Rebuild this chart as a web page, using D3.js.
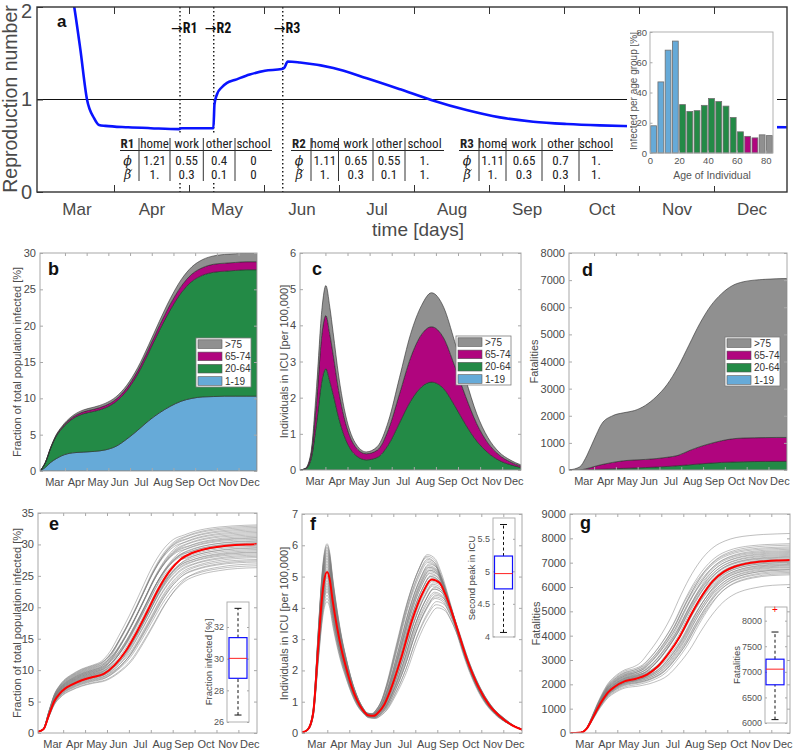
<!DOCTYPE html>
<html><head><meta charset="utf-8">
<script src="https://cdn.jsdelivr.net/npm/d3@7"></script>
<style>
body{margin:0;background:#fff}
svg{display:block;font-family:'Liberation Sans',Arial,Helvetica,sans-serif}
</style></head>
<body><svg id="fig" width="793" height="751"></svg>
<script>
// ---------------- DATA ----------------
const months = ["Mar","Apr","May","Jun","Jul","Aug","Sep","Oct","Nov","Dec"];
const monthStart = 0.15;           // first month boundary (months since simulation start), panels b-g

// Panel a: reproduction number (time in months since 1 March)
const rTime  = [0.328,0.47,0.55,0.64,0.733,0.80,0.885,1.19,1.49,1.868,1.90,2.325,2.34,2.375,2.435,2.507,2.608,2.81,3.013,3.236,3.267,3.317,3.48,3.925,4.37,4.817,5.23,5.70,6.145,6.59,7.036,7.48,7.79,8.59,9.97];
const rValue = [2.6,2.0,1.55,1.0,0.8,0.725,0.715,0.70,0.69,0.68,0.69,0.69,0.95,1.06,1.13,1.18,1.21,1.27,1.31,1.33,1.34,1.41,1.40,1.34,1.23,1.11,0.995,0.886,0.807,0.76,0.735,0.72,0.713,0.705,0.70];
const regimeChanges = [1.88, 2.33, 3.25];
const regimeNames = ["R1","R2","R3"];
const contexts = ["home","work","other","school"];
const phiR1 = ["1.21","0.55","0.4","0"],  betaR1 = ["1.","0.3","0.1","0"];
const phiR2 = ["1.11","0.65","0.55","1."], betaR2 = ["1.","0.3","0.1","1."];
const phiR3 = ["1.11","0.65","0.7","1."],  betaR3 = ["1.","0.3","0.3","1."];

// Inset: infected per age group [%]
const ageGroupStart = [0,5,10,15,20,25,30,35,40,45,50,55,60,65,70,75,80];
const infectedPct   = [18,47,68,74,32,27.5,28,31.5,36,34,31,23.5,14,11,10,12,11.5];

const groups = ["1-19","20-64","65-74",">75"];
const groupColors = {"1-19":"#66aad8","20-64":"#238a46","65-74":"#b0057e",">75":"#909090"};

// Panel b: fraction of total population infected [%] by age group
const bTime    = [0,0.25,0.5,0.75,1,1.5,2,2.5,3,3.5,4,4.5,5,5.5,6,6.5,7,7.5,8,8.5,9,9.5,10];
const bBlue    = [0,0.5,1.2,1.7,2.1,2.5,2.6,2.7,2.9,3.4,4.4,5.6,6.9,8.0,8.9,9.6,10.0,10.2,10.25,10.3,10.3,10.3,10.3];
const bGreen   = [0,0.66,1.99,3.1,3.71,4.68,5.28,5.52,5.78,6.14,6.66,7.73,9.35,11.35,13.25,14.9,16.1,16.75,17.1,17.2,17.3,17.4,17.4];
const bMagenta = [0,0.02,0.06,0.1,0.15,0.22,0.27,0.3,0.32,0.34,0.38,0.45,0.55,0.65,0.8,0.9,1.0,1.05,1.1,1.1,1.1,1.1,1.1];
const bGrey    = [0,0.02,0.05,0.1,0.14,0.2,0.25,0.28,0.3,0.32,0.36,0.42,0.5,0.6,0.75,0.9,1.0,1.1,1.15,1.2,1.2,1.2,1.2];

// Panel c: individuals in ICU [per 100,000]
const cTime    = [0,0.25,0.5,0.75,1.0,1.17,1.35,1.5,1.75,2.0,2.5,3.0,3.5,4.0,4.5,5.0,5.5,5.95,6.5,7.0,7.5,8.0,8.5,9.0,9.5,10];
const cBlue    = [0,0,0,0,0,0,0,0,0,0,0,0,0,0,0,0,0,0,0,0,0,0,0,0,0,0];
const cGreen   = [0,0.03,0.3,1.3,2.5,2.8,2.45,2.1,1.45,0.95,0.42,0.28,0.35,0.7,1.3,1.9,2.3,2.43,2.25,1.78,1.25,0.8,0.48,0.27,0.15,0.07];
const cMagenta = [0,0.01,0.12,0.6,1.3,1.47,1.3,1.1,0.75,0.5,0.23,0.17,0.2,0.42,0.8,1.2,1.45,1.53,1.4,1.1,0.78,0.48,0.27,0.15,0.08,0.04];
const cGrey    = [0,0.01,0.08,0.4,0.7,0.83,0.75,0.6,0.4,0.25,0.1,0.05,0.1,0.23,0.45,0.65,0.8,0.94,0.85,0.67,0.47,0.27,0.15,0.08,0.05,0.03];

// Panel d: fatalities
const dTime    = [0,0.5,0.75,1,1.25,1.5,2,2.5,3,3.5,4,4.5,5,5.5,6,6.5,7,7.5,8,8.5,9,9.5,10];
const dBlue    = [0,0,0,0,0,0,0,0,0,0,0,0,0,0,0,0,0,0,0,0,0,0,0];
const dGreen   = [0,2,8,15,22,30,45,60,75,90,110,130,160,190,225,255,280,295,305,312,316,318,320];
const dMagenta = [0,3,32,75,128,170,235,280,295,300,310,340,380,520,635,725,800,855,875,878,879,882,880];
const dGrey    = [0,115,380,760,1150,1500,1720,1770,1820,1990,2280,2680,3260,3890,4540,5070,5420,5650,5760,5810,5835,5850,5860];

// Panel e: fraction infected, baseline run + ensemble
const eTime = [0,0.25,0.5,0.75,1,1.25,1.5,2,2.5,3,3.5,4,4.5,5,5.5,6,6.5,7,7.5,8,8.5,9,9.5,10];
const eRed  = [0.2,0.6,2.9,5.1,6.3,7.1,7.6,8.4,8.9,9.4,10.8,13.0,16.0,19.4,22.9,25.7,27.6,28.6,29.15,29.5,29.75,29.9,30.0,30.05];
const eRunFinal   = [26.3,26.6,26.9,27.2,27.4,27.6,27.9,28.1,28.3,28.5,28.7,28.8,29.0,29.2,29.4,29.5,29.7,29.9,30.0,30.2,30.3,30.5,30.6,30.8,31.0,31.1,31.3,31.5,31.7,31.9,32.1,32.3,32.5,32.7,32.9,33.1];
const eRunPlateau = [8.0,8.3,7.9,8.4,8.6,8.2,8.8,8.5,9.0,8.7,9.2,8.9,9.4,9.1,9.6,8.8,9.3,9.8,9.0,9.5,10.0,9.2,9.7,10.2,9.4,9.9,10.4,9.6,10.1,10.6,9.8,10.3,10.7,10.0,10.5,10.8];
const eRunShift   = [0.25,0.2,0.3,0.15,0.22,0.1,0.18,0.05,0.12,0.0,0.08,-0.05,0.1,0.02,-0.08,0.06,-0.02,-0.1,0.04,-0.12,-0.05,-0.15,0.0,-0.18,-0.08,-0.2,-0.1,-0.22,-0.15,-0.25,-0.18,-0.28,-0.2,-0.3,-0.25,-0.32];
const eBoxStats = [26.44,28.76,30.02,31.33,33.18];

// Panel f: ICU, baseline run + ensemble
const fTime = [0,0.25,0.5,0.75,0.9,1.0,1.14,1.25,1.4,1.6,1.8,2.0,2.25,2.5,2.75,3.0,3.25,3.5,3.75,4.0,4.5,5.0,5.5,5.9,6.25,6.5,7.0,7.5,8.0,8.5,9.0,9.5,10];
const fRed  = [0.02,0.1,0.6,2.9,4.25,4.85,5.15,4.95,4.2,3.35,2.65,2.1,1.5,1.05,0.75,0.57,0.55,0.68,0.92,1.33,2.38,3.6,4.5,4.91,4.8,4.46,3.45,2.35,1.5,0.9,0.53,0.27,0.11];
const fRunFirstPeak  = [4.2,4.3,4.4,4.5,4.55,4.6,4.7,4.75,4.8,4.85,4.9,4.95,5.0,5.05,5.1,5.15,5.2,5.25,5.3,5.35,5.4,5.45,5.5,5.55,5.6,5.65,5.7,5.75,5.8,5.85,5.9,5.95,6.0,6.05,4.65,5.0];
const fRunSecondPeak = [4.6,5.2,4.1,4.9,5.5,4.3,5.0,4.0,5.3,4.7,5.6,4.4,5.1,4.8,5.7,4.2,4.95,5.4,4.5,5.25,4.85,5.65,4.35,5.05,5.45,4.6,5.15,4.75,5.55,4.45,5.3,4.9,5.0,5.2,4.65,5.35];
const fRunShift      = [0.1,-0.1,0.2,0.0,-0.2,0.15,-0.05,0.25,-0.15,0.05,-0.25,0.18,-0.08,0.08,-0.2,0.22,0.0,-0.12,0.12,-0.1,0.04,-0.22,0.16,-0.02,-0.18,0.1,-0.06,0.06,-0.2,0.14,-0.1,0.02,-0.04,-0.08,0.12,-0.14];
const fBoxStats = [4.06,4.73,4.965,5.235,5.72];

// Panel g: fatalities, baseline run + ensemble
const gTime = [0,0.25,0.5,0.75,1,1.25,1.5,1.75,2,2.5,3,3.5,4,4.5,5,5.5,6,6.5,7,7.5,8,8.5,9,9.5,10];
const gRed  = [0,0,20,170,560,1000,1380,1690,1880,2130,2230,2400,2740,3290,3980,4860,5640,6250,6630,6840,6960,7030,7070,7090,7105];
const gRunFinal   = [6100,6500,6550,6600,6650,6700,6720,6750,6800,6830,6870,6900,6930,6960,7000,7020,7050,7080,7100,7130,7160,7200,7230,7260,7300,7340,7380,7420,7460,7500,7550,7600,7650,7720,7780,8200];
const gRunPlateau = [1850,2000,1900,2050,1950,2100,1980,2150,2020,2200,2060,2120,2250,2080,2180,2300,2140,2220,2050,2350,2170,2260,2400,2110,2320,2240,2450,2190,2380,2500,2280,2420,2550,2350,2480,2600];
const gRunShift   = [0.45,0.3,0.35,0.25,0.3,0.2,0.28,0.15,0.22,0.1,0.18,0.12,0.05,0.14,0.0,0.08,-0.02,0.04,-0.05,-0.08,0.02,-0.1,-0.12,-0.06,-0.15,-0.1,-0.2,-0.14,-0.22,-0.25,-0.18,-0.28,-0.3,-0.25,-0.32,-0.45];
const gBoxStats = [6066,6747,7052,7247,7778];
const gBoxOutliers = [8214];

// ---------------- DRAWING ----------------
const svg = d3.select("#fig");
const FONT = "'Liberation Sans',Arial,Helvetica,sans-serif";
const NARROW = "'Liberation Sans Narrow','Arial Narrow','Roboto Condensed',Roboto,sans-serif";
const TXT = "#4a4a4a";
const BOXC = "#a8a8a8";
let clipCount = 0;
function makeClip(x,y,w,h){
  const id = "clip"+(clipCount++);
  svg.append("clipPath").attr("id",id).append("rect").attr("x",x).attr("y",y).attr("width",w).attr("height",h);
  return `url(#${id})`;
}
function styleAxis(sel,size,textColor,lineColor){
  sel.select(".domain").remove();
  sel.selectAll("text").attr("font-size",size).attr("fill",textColor).attr("font-family",FONT);
  sel.selectAll("line").attr("stroke",lineColor||textColor);
}

// ===== Panel a =====
(function(){
  const L=37,R=787,T=7,B=192;
  const x = d3.scaleLinear().domain([0,10]).range([39,789]);
  const y = d3.scaleLinear().domain([0,2]).range([B,T]);
  const g = svg.append("g");
  const clip = makeClip(L,T,R-L,B-T);
  g.append("line").attr("x1",L).attr("x2",R).attr("y1",y(1)).attr("y2",y(1)).attr("stroke","#111").attr("stroke-width",1);
  g.selectAll(".rc").data(regimeChanges).join("line")
    .attr("x1",d=>x(d)).attr("x2",d=>x(d)).attr("y1",T).attr("y2",B)
    .attr("stroke","#111").attr("stroke-width",1.4).attr("stroke-dasharray","1.4,2.6");
  const line = d3.line().x((d,i)=>x(rTime[i])).y(d=>y(d)).curve(d3.curveMonotoneX);
  g.append("path").attr("clip-path",clip).attr("d",line(rValue)).attr("fill","none").attr("stroke","#0a14ff").attr("stroke-width",2.6);
  const ml = g.append("g").attr("transform",`translate(0,${B})`)
    .call(d3.axisBottom(x).tickValues(months.map((m,i)=>i+0.5)).tickFormat((d,i)=>months[i]).tickSize(0).tickPadding(11));
  styleAxis(ml,17,TXT);
  const bounds = months.slice(1).map((m,i)=>i+1);
  const xb = g.append("g").attr("transform",`translate(0,${B})`).call(d3.axisBottom(x).tickValues(bounds).tickSize(-7).tickFormat(""));
  styleAxis(xb,10,"#333");
  const xt = g.append("g").attr("transform",`translate(0,${T})`).call(d3.axisTop(x).tickValues(bounds).tickSize(-7).tickFormat(""));
  styleAxis(xt,10,"#333");
  const yl = g.append("g").attr("transform",`translate(${L},0)`).call(d3.axisLeft(y).tickValues([0,1,2]).tickSize(-6).tickPadding(5).tickFormat(d3.format("d")));
  styleAxis(yl,20,TXT,"#333");
  yl.selectAll(".tick").filter(d=>d===2).select("text").attr("dy","0.5em");
  g.append("rect").attr("x",L).attr("y",T).attr("width",R-L).attr("height",B-T).attr("fill","none").attr("stroke","#333").attr("stroke-width",1.4);
  g.append("text").attr("transform",`translate(17,${99}) rotate(-90)`).attr("text-anchor","middle").attr("font-size",19.5).attr("fill",TXT).text("Reproduction number");
  g.append("text").attr("x",418).attr("y",236).attr("text-anchor","middle").attr("font-size",19).attr("fill",TXT).text("time [days]");
  g.append("text").attr("x",57).attr("y",27).attr("font-size",17).attr("font-weight","bold").attr("fill","#111").text("a");
  regimeChanges.forEach((d,i)=>{
    const t = g.append("text").attr("x",x(d)-9).attr("y",33).attr("font-size",14).attr("fill","#111");
    t.append("tspan").attr("font-family","'DejaVu Sans',sans-serif").attr("font-size",14).text("\u2192");
    t.append("tspan").attr("font-family",NARROW).attr("font-weight","bold").text(regimeNames[i]);
  });
  const tableLayout = [
    {start:120, seps:[139,170,203.3,235], end:272},
    {start:291, seps:[311,338.5,373,405], end:444},
    {start:459, seps:[479,506,542,579], end:613}];
  const tables = [{phi:phiR1,beta:betaR1},{phi:phiR2,beta:betaR2},{phi:phiR3,beta:betaR3}];
  tables.forEach((tb,ti)=>{
    const Lt = tableLayout[ti];
    const edges = [Lt.start,...Lt.seps,Lt.end];
    const centers = edges.slice(0,-1).map((e,i)=>(e+edges[i+1])/2);
    const tg = g.append("g").attr("font-family",NARROW).attr("font-size",13).attr("fill","#222");
    tg.append("rect").attr("x",Lt.start-3).attr("y",135).attr("width",Lt.end-Lt.start+6).attr("height",46).attr("fill","#fff");
    tg.append("text").attr("x",centers[0]-2).attr("y",148).attr("text-anchor","middle").attr("font-weight","bold").text(regimeNames[ti]);
    contexts.forEach((c,i)=>tg.append("text").attr("x",centers[i+1]).attr("y",148).attr("text-anchor","middle").text(c));
    tg.append("line").attr("x1",Lt.start).attr("x2",Lt.end).attr("y1",150.5).attr("y2",150.5).attr("stroke","#222").attr("stroke-width",1);
    tg.append("text").attr("x",centers[0]-2).attr("y",164.5).attr("text-anchor","middle").attr("font-family","'DejaVu Serif',serif").attr("font-style","italic").attr("font-size",12.5).text("\u03D5");
    tg.append("text").attr("x",centers[0]-2).attr("y",179).attr("text-anchor","middle").attr("font-family","'DejaVu Serif',serif").attr("font-style","italic").attr("font-size",12.5).text("\u03B2");
    const tx = centers[0]-0.5;
    tg.append("path").attr("d",`M${tx-3.2},169.6 q1.6,-2.2 3.2,0 t3.2,0`).attr("fill","none").attr("stroke","#222").attr("stroke-width",0.8);
    tb.phi.forEach((v,i)=>tg.append("text").attr("x",centers[i+1]).attr("y",165).attr("text-anchor","middle").text(v));
    tb.beta.forEach((v,i)=>tg.append("text").attr("x",centers[i+1]).attr("y",179).attr("text-anchor","middle").text(v));
    Lt.seps.forEach(s=>tg.append("line").attr("x1",s).attr("x2",s).attr("y1",138).attr("y2",181).attr("stroke","#333").attr("stroke-width",1));
  });
  // inset histogram
  const ig = g.append("g");
  ig.append("rect").attr("x",627).attr("y",20).attr("width",150).attr("height",166).attr("fill","#fff");
  const hx = d3.scaleLinear().domain([0,85]).range([650,773]);
  const hy = d3.scaleLinear().domain([0,80]).range([153,32]);
  ig.selectAll(".bar").data(infectedPct).join("rect")
    .attr("x",(d,i)=>hx(ageGroupStart[i])+0.7).attr("width",(d,i)=>hx(ageGroupStart[i]+5)-hx(ageGroupStart[i])-1.4)
    .attr("y",d=>hy(d)).attr("height",d=>hy(0)-hy(d))
    .attr("fill",(d,i)=>{const a=ageGroupStart[i]; return a<20?groupColors["1-19"]:a<65?groupColors["20-64"]:a<75?groupColors["65-74"]:groupColors[">75"];})
    .attr("stroke","#6f6f6f").attr("stroke-width",0.8);
  const hxa = ig.append("g").attr("transform","translate(0,153)").call(d3.axisBottom(hx).tickValues([0,20,40,60,80]).tickSize(-2.5).tickPadding(4));
  styleAxis(hxa,9.5,"#555",BOXC);
  const hya = ig.append("g").attr("transform","translate(650,0)").call(d3.axisLeft(hy).tickValues([0,20,40,60,80]).tickSize(-2.5).tickPadding(3));
  styleAxis(hya,9.5,"#555",BOXC);
  ig.append("rect").attr("x",650).attr("y",32).attr("width",123).attr("height",121).attr("fill","none").attr("stroke",BOXC).attr("stroke-width",0.9);
  const labClip = makeClip(630,20,147,166);
  ig.append("g").attr("clip-path",labClip).append("text").attr("transform","translate(637,91) rotate(-90)").attr("text-anchor","middle").attr("font-size",10).attr("fill","#555").text("Infected per age group [%]");
  ig.append("text").attr("x",712).attr("y",179).attr("text-anchor","middle").attr("font-size",10.5).attr("fill","#555").text("Age of Individual");
})();

// ===== generic panel helpers =====
function cartesian(o){
  const x = d3.scaleLinear().domain([0,10]).range([o.l,o.r]);
  const y = d3.scaleLinear().domain(o.yDom).range([o.b,o.t]);
  const g = svg.append("g");
  const plot = g.append("g").attr("clip-path",makeClip(o.l,o.t,o.r-o.l,o.b-o.t));
  return {x,y,g,plot,o};
}
function frame(P){
  const {x,y,g,o} = P;
  const ml = g.append("g").attr("transform",`translate(0,${o.b})`)
    .call(d3.axisBottom(x).tickValues(months.map((m,i)=>monthStart+i+0.5)).tickFormat((d,i)=>months[i]).tickSize(0).tickPadding(7));
  styleAxis(ml,11,TXT);
  const bounds = months.slice(1).map((m,i)=>monthStart+i+1);
  const xb = g.append("g").attr("transform",`translate(0,${o.b})`).call(d3.axisBottom(x).tickValues(bounds).tickSize(-3).tickFormat(""));
  styleAxis(xb,11,BOXC);
  const xt = g.append("g").attr("transform",`translate(0,${o.t})`).call(d3.axisTop(x).tickValues(bounds).tickSize(-3).tickFormat(""));
  styleAxis(xt,11,BOXC);
  const yl = g.append("g").attr("transform",`translate(${o.l},0)`).call(d3.axisLeft(y).tickValues(o.yTicks).tickSize(-3).tickPadding(4).tickFormat(d3.format("d")));
  styleAxis(yl,11,TXT,BOXC);
  const yr = g.append("g").attr("transform",`translate(${o.r},0)`).call(d3.axisRight(y).tickValues(o.yTicks).tickSize(-3).tickFormat(""));
  styleAxis(yr,11,BOXC);
  g.append("rect").attr("x",o.l).attr("y",o.t).attr("width",o.r-o.l).attr("height",o.b-o.t).attr("fill","none").attr("stroke",BOXC).attr("stroke-width",1);
  g.append("text").attr("transform",`translate(${o.yLabX},${(o.t+o.b)/2}) rotate(-90)`).attr("text-anchor","middle").attr("font-size",11).attr("fill",TXT).text(o.yLabel);
  g.append("text").attr("x",o.letter[1]).attr("y",o.letter[2]).attr("font-size",18).attr("font-weight","bold").attr("fill","#111").text(o.letter[0]);
}
function stacked(P,times,series){
  const {x,y,plot} = P;
  const rows = times.map((t,i)=>{const r={t}; groups.forEach((k,j)=>r[k]=series[j][i]); return r;});
  const layers = d3.stack().keys(groups)(rows);
  const area = d3.area().x(d=>x(d.data.t)).y0(d=>y(d[0])).y1(d=>y(d[1])).curve(d3.curveMonotoneX);
  plot.selectAll(".layer").data(layers).join("path").attr("d",area)
    .attr("fill",d=>groupColors[d.key]).attr("stroke","#2b2b2b").attr("stroke-width",0.6);
}
function legend(P,x0,y0){
  const g = P.g.append("g");
  g.append("rect").attr("x",x0).attr("y",y0).attr("width",55).attr("height",49).attr("fill","#fff").attr("stroke","#7a7a7a").attr("stroke-width",0.8);
  const order = [">75","65-74","20-64","1-19"];
  order.forEach((k,i)=>{
    const yy = y0+1.8+i*12.3;
    g.append("rect").attr("x",x0+2).attr("y",yy).attr("width",24).attr("height",8.6).attr("fill",groupColors[k]).attr("stroke","#555").attr("stroke-width",0.6);
    g.append("text").attr("x",x0+29).attr("y",yy+8).attr("font-size",10).attr("fill","#333").text(k);
  });
}
function ramp(t,a,b){return t<=a?0:t>=b?1:(t-a)/(b-a);}
function ensemble(P,times,red,s1s,s2s,shifts,sr,si,so){
  const {x,y,plot} = P;
  const line = d3.line().x(d=>x(d[0])).y(d=>y(d[1])).curve(d3.curveMonotoneX);
  s1s.forEach((s1,r)=>{
    const s2 = s2s[r], sh = shifts[r];
    const pts = times.map((t,k)=>{
      const w = ramp(t,sr[0],sr[1]);
      const ws = ramp(t,si[0],si[1])*(1-ramp(t,so[0],so[1]));
      return [t+sh*ws, red[k]*(s1+(s2-s1)*w)];
    });
    plot.append("path").attr("d",line(pts)).attr("fill","none").attr("stroke","#7d7d7d").attr("stroke-width",0.7).attr("stroke-opacity",0.7);
  });
  plot.append("path").attr("d",line(times.map((t,k)=>[t,red[k]]))).attr("fill","none").attr("stroke","#ff0000").attr("stroke-width",2);
}
function boxInset(o){
  const y = d3.scaleLinear().domain(o.dom).range([o.b,o.t]);
  const g = svg.append("g");
  g.append("rect").attr("x",o.l).attr("y",o.t).attr("width",o.r-o.l).attr("height",o.b-o.t).attr("fill","#fff");
  const yl = g.append("g").attr("transform",`translate(${o.l},0)`).call(d3.axisLeft(y).tickValues(o.ticks).tickSize(-2).tickPadding(3).tickFormat(o.fmt));
  styleAxis(yl,9,"#555",BOXC);
  const yr = g.append("g").attr("transform",`translate(${o.r},0)`).call(d3.axisRight(y).tickValues(o.ticks).tickSize(-2).tickFormat(""));
  styleAxis(yr,9,BOXC);
  g.append("rect").attr("x",o.l).attr("y",o.t).attr("width",o.r-o.l).attr("height",o.b-o.t).attr("fill","none").attr("stroke",BOXC).attr("stroke-width",0.9);
  const s = o.stats, cx = o.cx;
  [[s[0],s[1]],[s[3],s[4]]].forEach(([a,b])=>g.append("line").attr("x1",cx).attr("x2",cx).attr("y1",y(a)).attr("y2",y(b)).attr("stroke","#111").attr("stroke-width",1).attr("stroke-dasharray","3,2.5"));
  [s[0],s[4]].forEach(v=>g.append("line").attr("x1",cx-3.5).attr("x2",cx+3.5).attr("y1",y(v)).attr("y2",y(v)).attr("stroke","#111").attr("stroke-width",1));
  g.append("rect").attr("x",o.bx0).attr("width",o.bx1-o.bx0).attr("y",y(s[3])).attr("height",y(s[1])-y(s[3])).attr("fill","none").attr("stroke","#1010ff").attr("stroke-width",1.2);
  g.append("line").attr("x1",o.bx0).attr("x2",o.bx1).attr("y1",y(s[2])).attr("y2",y(s[2])).attr("stroke","#ff2020").attr("stroke-width",1);
  (o.outliers||[]).forEach(v=>g.append("text").attr("x",cx).attr("y",y(v)+3.5).attr("text-anchor","middle").attr("font-size",10).attr("fill","#ff0000").text("+"));
  g.append("text").attr("transform",`translate(${o.labX},${o.labY}) rotate(-90)`).attr("text-anchor","middle").attr("font-size",9.5).attr("fill","#444").text(o.label);
}

// ===== Panel b =====
const Pb = cartesian({l:40,r:257,t:253,b:471,yDom:[0,30]});
stacked(Pb,bTime,[bBlue,bGreen,bMagenta,bGrey]);
Object.assign(Pb.o,{yTicks:[0,5,10,15,20,25,30],yLabX:21,yLabel:"Fraction of total population infected [%]",letter:["b",48,275]});
frame(Pb);
legend(Pb,196,338);

// ===== Panel c =====
const Pc = cartesian({l:300,r:521,t:253,b:470,yDom:[0,6]});
stacked(Pc,cTime,[cBlue,cGreen,cMagenta,cGrey]);
Object.assign(Pc.o,{yTicks:[0,1,2,3,4,5,6],yLabX:288,yLabel:"Individuals in ICU [per 100,000]",letter:["c",312,275]});
frame(Pc);
legend(Pc,456,336);

// ===== Panel d =====
const Pd = cartesian({l:569,r:787,t:253,b:470,yDom:[0,8000]});
stacked(Pd,dTime,[dBlue,dGreen,dMagenta,dGrey]);
Object.assign(Pd.o,{yTicks:[0,1000,2000,3000,4000,5000,6000,7000,8000],yLabX:538,yLabel:"Fatalities",letter:["d",582,276]});
frame(Pd);
legend(Pd,725,337);

// ===== Panel e =====
const Pe = cartesian({l:38,r:257,t:513,b:733,yDom:[0,35]});
ensemble(Pe,eTime,eRed,eRunPlateau.map(v=>v/eRed[8]),eRunFinal.map(v=>v/eRed[eRed.length-1]),eRunShift,[3,7],[2.5,4],[8,9.8]);
Object.assign(Pe.o,{yTicks:[0,5,10,15,20,25,30,35],yLabX:21,yLabel:"Fraction of total population infected [%]",letter:["e",49,530]});
frame(Pe);
boxInset({l:227,r:249,t:602,b:722,dom:[26,33.58],ticks:[26,28,30,32],fmt:d3.format("d"),stats:eBoxStats,cx:238,bx0:229,bx1:247,label:"Fraction infected [%]",labX:212,labY:662});

// ===== Panel f =====
const Pf = cartesian({l:302,r:522,t:514,b:733,yDom:[0,7]});
ensemble(Pf,fTime,fRed,fRunFirstPeak.map(v=>v/fRed[6]),fRunSecondPeak.map(v=>v/fRed[23]),fRunShift,[1.5,4.5],[2.5,4.5],[9.2,10]);
Object.assign(Pf.o,{yTicks:[0,1,2,3,4,5,6,7],yLabX:288,yLabel:"Individuals in ICU [per 100,000]",letter:["f",310,530]});
frame(Pf);
boxInset({l:493,r:515,t:518,b:637,dom:[3.99,5.82],ticks:[4,4.5,5,5.5],fmt:d3.format("~g"),stats:fBoxStats,cx:503.5,bx0:494.5,bx1:512.5,label:"Second peak in ICU",labX:475,labY:578});

// ===== Panel g =====
const Pg = cartesian({l:570,r:790,t:514,b:733,yDom:[0,9000]});
ensemble(Pg,gTime,gRed,gRunPlateau.map(v=>v/gRed[9]),gRunFinal.map(v=>v/gRed[gRed.length-1]),gRunShift,[2.5,6.5],[2.5,4],[8,9.8]);
Object.assign(Pg.o,{yTicks:[0,1000,2000,3000,4000,5000,6000,7000,8000,9000],yLabX:540,yLabel:"Fatalities",letter:["g",580,529]});
frame(Pg);
boxInset({l:765,r:787,t:607,b:723,dom:[6000,8267],ticks:[6000,6500,7000,7500,8000],fmt:d3.format("d"),stats:gBoxStats,outliers:gBoxOutliers,cx:775,bx0:766,bx1:784,label:"Fatalities",labX:740,labY:665});
</script></body></html>
